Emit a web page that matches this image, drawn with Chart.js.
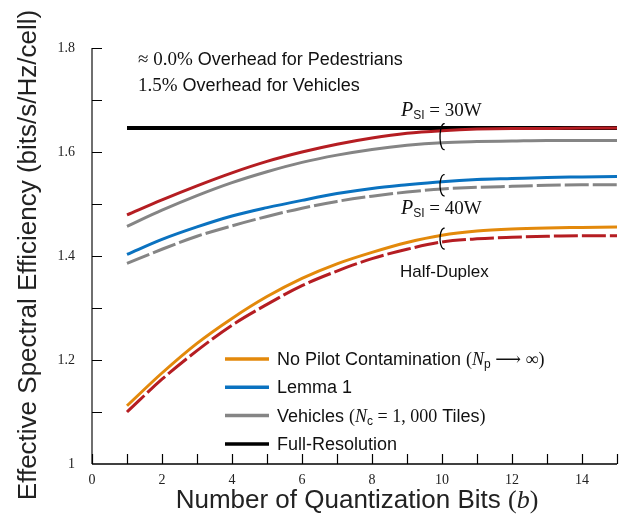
<!DOCTYPE html>
<html lang="en">
<head>
<meta charset="UTF-8">
<title>Effective Spectral Efficiency vs Quantization Bits</title>
<script src="https://cdn.jsdelivr.net/npm/chart.js"></script>
<style>
  html, body { margin: 0; padding: 0; background: #fff; }
  #wrap { width: 630px; height: 524px; position: relative; }
</style>
</head>
<body>
<div id="wrap"><canvas id="chart" width="630" height="524"></canvas></div>
<script>
// number of quantization bits
const bits = [1, 2, 3, 4, 5, 6, 7, 8, 9, 10, 11, 12, 13, 14, 15];

// P_SI = 30W pair
const red30 = [1.479, 1.508, 1.535, 1.560, 1.582, 1.600, 1.615, 1.627, 1.636, 1.641, 1.644, 1.645, 1.645, 1.646, 1.646];
const vehicles30 = [1.457, 1.488, 1.516, 1.541, 1.562, 1.580, 1.594, 1.605, 1.613, 1.618, 1.620, 1.621, 1.622, 1.622, 1.622];
// P_SI = 40W pair
const lemma40 = [1.403, 1.432, 1.456, 1.477, 1.493, 1.507, 1.520, 1.530, 1.537, 1.543, 1.547, 1.549, 1.551, 1.552, 1.553];
const vehicles40 = [1.386, 1.413, 1.438, 1.458, 1.476, 1.492, 1.505, 1.515, 1.523, 1.529, 1.532, 1.534, 1.536, 1.537, 1.537];
// half-duplex pair
const noPilotHD = [1.112, 1.175, 1.232, 1.280, 1.322, 1.357, 1.385, 1.407, 1.426, 1.440, 1.448, 1.452, 1.454, 1.455, 1.456];
const redHD = [1.100, 1.163, 1.218, 1.267, 1.307, 1.343, 1.371, 1.395, 1.413, 1.427, 1.433, 1.436, 1.438, 1.439, 1.439];
// full resolution reference
const fullRes = [1.646, 1.646, 1.646, 1.646, 1.646, 1.646, 1.646, 1.646, 1.646, 1.646, 1.646, 1.646, 1.646, 1.646, 1.646];

const ORANGE = '#e3890b', BLUE = '#0a72c0', GRAY = '#858585', RED = '#b51d22', BLACK = '#000000';
const SANS = '"Liberation Sans", Arial, sans-serif';
const SERIF = '"Liberation Serif", "DejaVu Serif", serif';

function pts(arr) { return arr.map((v, i) => ({ x: bits[i], y: v })); }

function line(data, color, dash, order, width) {
  return {
    data: pts(data),
    borderColor: color,
    borderWidth: width || 3,
    borderDash: dash || [],
    pointRadius: 0,
    cubicInterpolationMode: 'monotone',
    fill: false,
    order: order
  };
}

// draw a run of text pieces with different fonts
function drawRich(ctx, x, y, parts) {
  parts.forEach(p => {
    ctx.font = p.f;
    ctx.fillText(p.t, x, y + (p.dy || 0));
    x += ctx.measureText(p.t).width;
  });
}

function drawCentered(ctx, cx, y, parts) {
  let w = 0;
  parts.forEach(p => { ctx.font = p.f; w += ctx.measureText(p.t).width; });
  ctx.textAlign = 'left';
  drawRich(ctx, cx - w / 2, y, parts);
}

const decorations = {
  id: 'decorations',
  afterDatasetsDraw(chart) {
    const ctx = chart.ctx;
    const xs = chart.scales.x, ys = chart.scales.y;
    const a = chart.chartArea;
    ctx.save();

    // axes
    ctx.strokeStyle = '#6f6f6f';
    ctx.lineWidth = 2;
    ctx.beginPath();
    ctx.moveTo(a.left, a.bottom);
    ctx.lineTo(a.left, a.top);
    ctx.stroke();
    ctx.strokeStyle = '#000';
    ctx.lineWidth = 1.5;
    ctx.beginPath();
    ctx.moveTo(a.left, a.bottom);
    ctx.lineTo(a.right, a.bottom);
    ctx.stroke();

    // inward ticks
    ctx.lineWidth = 1.2;
    ctx.beginPath();
    for (let v = 1.1; v <= 1.801; v += 0.1) {
      const py = Math.round(ys.getPixelForValue(v)) + 0.5;
      ctx.moveTo(a.left, py);
      ctx.lineTo(a.left + 10, py);
    }
    for (let b = 0; b <= 15; b++) {
      const px = Math.round(xs.getPixelForValue(b)) + 0.5;
      ctx.moveTo(px, a.bottom);
      ctx.lineTo(px, a.bottom - 10);
    }
    ctx.stroke();

    // brackets grouping each pair of curves
    const pairs = [[red30, vehicles30], [lemma40, vehicles40], [noPilotHD, redHD]];
    ctx.lineWidth = 1.3;
    pairs.forEach(([up, lo]) => {
      const cx = xs.getPixelForValue(10);
      const y1 = ys.getPixelForValue(up[9]) - 7;
      const y2 = ys.getPixelForValue(lo[9]) + 7;
      ctx.beginPath();
      ctx.ellipse(cx + 2, (y1 + y2) / 2, 4, (y2 - y1) / 2, 0, 0.45 * Math.PI, 1.55 * Math.PI);
      ctx.stroke();
    });

    // annotations
    ctx.fillStyle = '#111';
    ctx.textAlign = 'left';
    ctx.textBaseline = 'alphabetic';
    drawRich(ctx, 138, 65, [
      { t: '\u2248 0.0%', f: '19px ' + SERIF },
      { t: ' Overhead for Pedestrians', f: '18px ' + SANS }
    ]);
    drawRich(ctx, 138, 91, [
      { t: '1.5%', f: '19px ' + SERIF },
      { t: ' Overhead for Vehicles', f: '18px ' + SANS }
    ]);
    drawRich(ctx, 401, 116, [
      { t: 'P', f: 'italic 20px ' + SERIF },
      { t: 'SI', f: '12px ' + SANS, dy: 3 },
      { t: ' = 30W', f: '19px ' + SERIF }
    ]);
    drawRich(ctx, 401, 214, [
      { t: 'P', f: 'italic 20px ' + SERIF },
      { t: 'SI', f: '12px ' + SANS, dy: 3 },
      { t: ' = 40W', f: '19px ' + SERIF }
    ]);
    drawRich(ctx, 400, 277, [{ t: 'Half-Duplex', f: '17px ' + SANS }]);

    // legend
    const items = [
      { c: ORANGE, parts: [
        { t: 'No Pilot Contamination ', f: '18px ' + SANS },
        { t: '(', f: '18px ' + SERIF },
        { t: 'N', f: 'italic 18px ' + SERIF },
        { t: 'p', f: '12px ' + SANS, dy: 3 },
        { t: ' \u27F6 \u221E)', f: '18px ' + SERIF }
      ] },
      { c: BLUE, parts: [{ t: 'Lemma 1', f: '18px ' + SANS }] },
      { c: GRAY, parts: [
        { t: 'Vehicles ', f: '18px ' + SANS },
        { t: '(', f: '18px ' + SERIF },
        { t: 'N', f: 'italic 18px ' + SERIF },
        { t: 'c', f: '12px ' + SANS, dy: 3 },
        { t: ' = 1, 000', f: '18px ' + SERIF },
        { t: ' Tiles', f: '18px ' + SANS },
        { t: ')', f: '18px ' + SERIF }
      ] },
      { c: BLACK, parts: [{ t: 'Full-Resolution', f: '18px ' + SANS }] }
    ];
    items.forEach((it, i) => {
      const y = 359 + i * 28.3;
      ctx.strokeStyle = it.c;
      ctx.lineWidth = 3.5;
      ctx.beginPath();
      ctx.moveTo(225, y);
      ctx.lineTo(269, y);
      ctx.stroke();
      ctx.fillStyle = '#111';
      drawRich(ctx, 277, y + 6, it.parts);
    });

    // axis titles
    ctx.fillStyle = '#222';
    drawCentered(ctx, 357, 508, [
      { t: 'Number of Quantization Bits ', f: '26px ' + SANS },
      { t: '(', f: '26px ' + SERIF },
      { t: 'b', f: 'italic 26px ' + SERIF },
      { t: ')', f: '26px ' + SERIF }
    ]);
    ctx.save();
    ctx.translate(36, 255);
    ctx.rotate(-Math.PI / 2);
    ctx.font = '26px ' + SANS;
    ctx.textAlign = 'center';
    ctx.fillText('Effective Spectral Efficiency (bits/s/Hz/cell)', 0, 0);
    ctx.restore();

    ctx.restore();
  }
};

new Chart(document.getElementById('chart'), {
  type: 'line',
  data: {
    datasets: [
      line(red30, RED, [], 1),
      line(vehicles30, GRAY, [], 2),
      line(lemma40, BLUE, [], 3),
      line(vehicles40, GRAY, [24, 4], 4),
      line(noPilotHD, ORANGE, [], 5),
      line(redHD, RED, [24, 4], 6),
      line(fullRes, BLACK, [], 7, 4)
    ]
  },
  options: {
    responsive: false,
    animation: false,
    layout: { padding: { top: 48, right: 13, left: 0, bottom: 0 } },
    plugins: { legend: { display: false }, tooltip: { enabled: false } },
    scales: {
      x: {
        type: 'linear',
        min: 0,
        max: 15,
        grid: { display: false },
        border: { display: false },
        afterFit: s => { s.height = 60; },
        ticks: {
          stepSize: 1,
          autoSkip: false,
          maxRotation: 0,
          padding: 0,
          color: '#222',
          font: { family: SERIF, size: 14 },
          callback: v => (v % 2 === 0 ? String(v) : '')
        }
      },
      y: {
        min: 1,
        max: 1.8,
        grid: { display: false },
        border: { display: false },
        afterFit: s => { s.width = 92; },
        ticks: {
          stepSize: 0.1,
          autoSkip: false,
          padding: 9,
          color: '#222',
          font: { family: SERIF, size: 14 },
          callback: v => {
            const k = Math.round(v * 10);
            if (k % 2 !== 0) return '';
            return k === 10 ? '1' : (k / 10).toFixed(1);
          }
        }
      }
    }
  },
  plugins: [decorations]
});
</script>
</body>
</html>
